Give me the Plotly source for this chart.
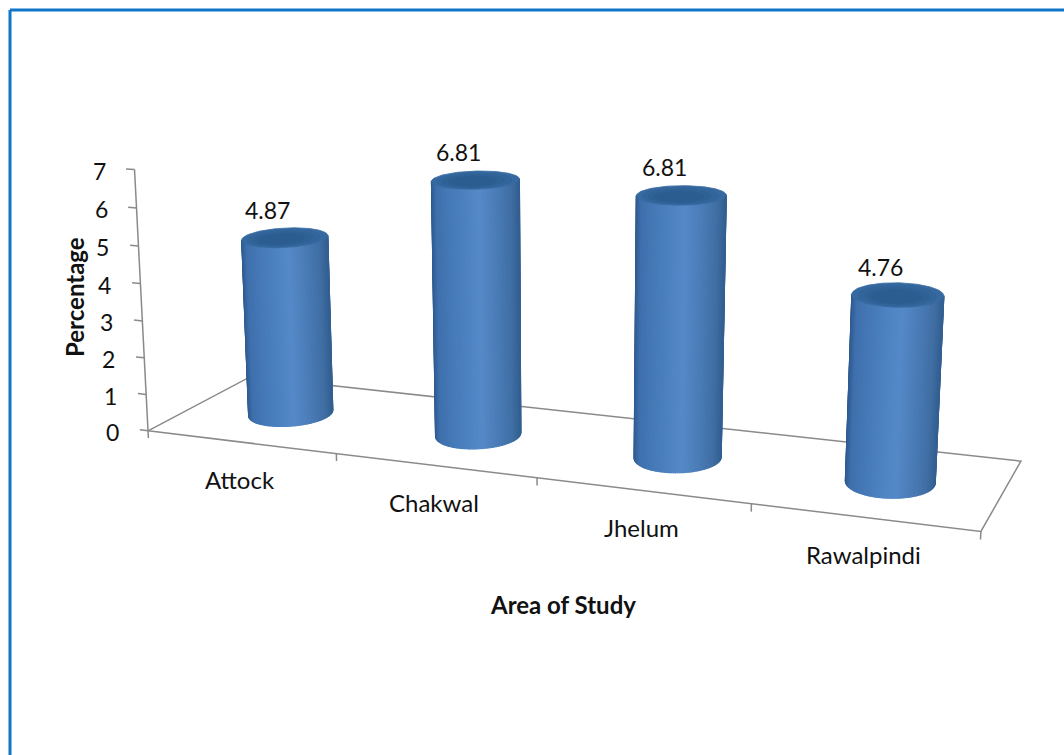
import numpy as np
import plotly.graph_objects as go

# Chart data
areas = ["Attock", "Chakwal", "Jhelum", "Rawalpindi"]
percentages = [4.87, 6.81, 6.81, 4.76]
value_labels = ["4.87", "6.81", "6.81", "4.76"]
value_ticks = [0, 1, 2, 3, 4, 5, 6, 7]
x_title = "Area of Study"
y_title = "Percentage"

# Perspective camera for the three-dimensional chart box
EYE = np.array([1.378, -3.68, 1.006])
FORWARD = np.array([-0.324, 0.91, -0.259])
UP_HINT = np.array([-0.092, 0.242, 0.966])
FOCAL, CX, CY = 2193.0, 611.0, 340.0
DEPTH_SCALE, HEIGHT_SCALE = 0.806 / 2, 0.652 / 9
WIDTH_SCALE = 0.4

fw = FORWARD / np.linalg.norm(FORWARD)
side = np.cross(fw, UP_HINT)
side /= np.linalg.norm(side)
up = np.cross(side, fw)


def world(x, y, z):
    x, y, z = np.broadcast_arrays(np.asarray(x, float), np.asarray(y, float), np.asarray(z, float))
    return np.stack([(x - 2) * WIDTH_SCALE, (y - 0.5) * DEPTH_SCALE, (z - 3.5) * HEIGHT_SCALE], axis=-1)


def project(x, y, z):
    d = world(x, y, z) - EYE
    zc = d @ fw
    return CX + FOCAL * (d @ side) / zc, CY - FOCAL * (d @ up) / zc


RADIUS_X = 0.198
RADIUS_Y = 1.15 * RADIUS_X * WIDTH_SCALE / DEPTH_SCALE
DEPTH_MID = 0.5

SHADE_POS = [-1.0, -0.88, -0.35, 0.1, 0.5, 0.82, 1.0]
SHADE_RGB = np.array([
    [0x2e, 0x5a, 0x8f], [0x3f, 0x70, 0xad], [0x4a, 0x7f, 0xbe], [0x55, 0x89, 0xc8],
    [0x4a, 0x7b, 0xb6], [0x40, 0x6e, 0xa3], [0x33, 0x60, 0x92],
])
CAP_STEPS = [(1.0, 0.0, "#35699f"), (0.85, -0.05, "#32659a"), (0.7, -0.1, "#2f6195"), (0.55, -0.15, "#2c5d90")]
LINE_COLOR = "#8a8a8a"
TEXT_COLOR = "#111111"
FONT = "Lato, Carlito, sans-serif"
FRAME_COLOR = "#0f75c8"


def shade(t):
    rgb = [np.interp(t, SHADE_POS, SHADE_RGB[:, i]) for i in range(3)]
    return "rgb(%d,%d,%d)" % tuple(int(round(c)) for c in rgb)


traces = []


def polyline(x, y, z, width=1.5):
    px, py = project(x, y, z)
    traces.append(go.Scatter(x=px, y=py, mode="lines", line=dict(color=LINE_COLOR, width=width),
                             hoverinfo="skip", showlegend=False))


n_cat = len(areas)
top_val = value_ticks[-1]

# Floor outline
polyline([0, n_cat, n_cat, 0, 0], [0, 0, 1, 1, 0], [0, 0, 0, 0, 0])
# Value axis and its ticks
polyline([0, 0], [0, 0], [0, top_val])
for v in value_ticks:
    polyline([0, -0.045], [0, 0], [v, v])
# Category ticks
for i in range(n_cat + 1):
    polyline([i, i], [0, 0], [0, -0.2])

# Cylinders, left to right, each built from narrow shaded strips
thetas = np.linspace(0, 2 * np.pi, 145)
for i, v in enumerate(percentages):
    xc = i + 0.5
    cx_ = xc + RADIUS_X * np.cos(thetas)
    cy_ = DEPTH_MID + RADIUS_Y * np.sin(thetas)
    bx, by = project(cx_, cy_, 0)
    tx, ty = project(cx_, cy_, v)
    centre = world(xc, DEPTH_MID, v / 2)
    view = EYE - centre
    normals = np.stack([np.cos(thetas) / RADIUS_X, np.sin(thetas) / RADIUS_Y], axis=-1)
    facing = normals @ view[:2]
    mid_x = (bx + tx) / 2
    front = facing > -1e-9
    lo, hi = mid_x[front].min(), mid_x[front].max()
    strips = [k for k in range(len(thetas) - 1) if facing[k] > 0 or facing[k + 1] > 0]
    strips.sort(key=lambda k: mid_x[k] + mid_x[k + 1])
    for k in strips:
        t = 2 * ((mid_x[k] + mid_x[k + 1]) / 2 - lo) / (hi - lo) - 1
        c = shade(t)
        traces.append(go.Scatter(
            x=[bx[k], bx[k + 1], tx[k + 1], tx[k], bx[k]],
            y=[by[k], by[k + 1], ty[k + 1], ty[k], by[k]],
            mode="lines", fill="toself", fillcolor=c, line=dict(color=c, width=1.2),
            hoverinfo="skip", showlegend=False))
    # Top face, darkening slightly towards the viewer
    for scale, shift, colour in CAP_STEPS:
        px, py = project(xc + scale * RADIUS_X * np.cos(thetas),
                         DEPTH_MID + shift * RADIUS_Y + scale * RADIUS_Y * np.sin(thetas), v)
        traces.append(go.Scatter(x=px, y=py, mode="lines", fill="toself", fillcolor=colour,
                                 line=dict(color=colour, width=0.8), hoverinfo="skip", showlegend=False,
                                 name=areas[i]))

annotations = []


def label(px, py, text, size=24, bold=False, anchor="center", angle=0):
    annotations.append(dict(
        x=px, y=py, xref="x", yref="y", text=f"<b>{text}</b>" if bold else text, showarrow=False,
        xanchor=anchor, yanchor="middle", textangle=angle,
        font=dict(family=FONT, size=size, color=TEXT_COLOR)))


# Values above the cylinders
for i, v in enumerate(percentages):
    px, py = project(i + 0.5, DEPTH_MID, v)
    label(float(px) - 17, float(py) - 28, value_labels[i], size=23)

# Value axis labels
for v in value_ticks:
    px, py = project(0, 0, v)
    label(float(px) - 27, float(py) + 1, str(v), size=23, anchor="right")

# Category labels
for i, name in enumerate(areas):
    px, py = project(i + 0.5, 0, 0)
    label(float(px) - 1, float(py) + 37, name)

label(74, 297, y_title, bold=True, angle=-90)
label(563, 604, x_title, bold=True)

fig = go.Figure(traces)
fig.update_layout(
    width=1064, height=755, margin=dict(l=0, r=0, t=0, b=0),
    paper_bgcolor="white", plot_bgcolor="white", showlegend=False,
    xaxis=dict(range=[0, 1064], visible=False, fixedrange=True),
    yaxis=dict(range=[755, 0], visible=False, fixedrange=True),
    annotations=annotations,
    shapes=[
        dict(type="line", xref="x", yref="y", x0=10, y0=10, x1=1064, y1=10, line=dict(color=FRAME_COLOR, width=3)),
        dict(type="line", xref="x", yref="y", x0=10, y0=10, x1=10, y1=755, line=dict(color=FRAME_COLOR, width=3)),
    ],
)
fig.write_html("out.html", config=dict(displayModeBar=False))
